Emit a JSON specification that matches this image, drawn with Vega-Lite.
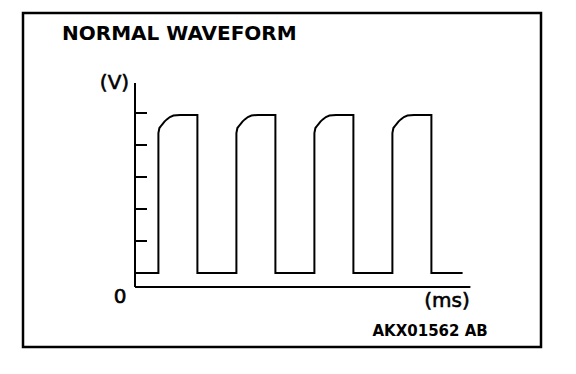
{
  "$schema": "https://vega.github.io/schema/vega-lite/v6.json",
  "width": 518,
  "height": 334,
  "autosize": {"type": "none"},
  "padding": {"left": 23, "top": 13, "right": 35, "bottom": 27},
  "background": "white",
  "config": {"view": {"stroke": "black", "strokeWidth": 2.5}},
  "datasets": {
    "wave": [
      {"i": 0, "t": 0, "v": 0},
      {"i": 1, "t": 1.2, "v": 0}, {"i": 2, "t": 1.2, "v": 4.375}, {"i": 3, "t": 1.251, "v": 4.53}, {"i": 4, "t": 1.37, "v": 4.625}, {"i": 5, "t": 1.51, "v": 4.73}, {"i": 6, "t": 1.63, "v": 4.8}, {"i": 7, "t": 1.79, "v": 4.875}, {"i": 8, "t": 1.97, "v": 4.92}, {"i": 9, "t": 2.31, "v": 4.94}, {"i": 10, "t": 3.2, "v": 4.94}, {"i": 11, "t": 3.2, "v": 0},
      {"i": 12, "t": 5.2, "v": 0}, {"i": 13, "t": 5.2, "v": 4.375}, {"i": 14, "t": 5.251, "v": 4.53}, {"i": 15, "t": 5.37, "v": 4.625}, {"i": 16, "t": 5.51, "v": 4.73}, {"i": 17, "t": 5.63, "v": 4.8}, {"i": 18, "t": 5.79, "v": 4.875}, {"i": 19, "t": 5.97, "v": 4.92}, {"i": 20, "t": 6.31, "v": 4.94}, {"i": 21, "t": 7.2, "v": 4.94}, {"i": 22, "t": 7.2, "v": 0},
      {"i": 23, "t": 9.2, "v": 0}, {"i": 24, "t": 9.2, "v": 4.375}, {"i": 25, "t": 9.251, "v": 4.53}, {"i": 26, "t": 9.37, "v": 4.625}, {"i": 27, "t": 9.51, "v": 4.73}, {"i": 28, "t": 9.63, "v": 4.8}, {"i": 29, "t": 9.79, "v": 4.875}, {"i": 30, "t": 9.97, "v": 4.92}, {"i": 31, "t": 10.31, "v": 4.94}, {"i": 32, "t": 11.2, "v": 4.94}, {"i": 33, "t": 11.2, "v": 0},
      {"i": 34, "t": 13.2, "v": 0}, {"i": 35, "t": 13.2, "v": 4.375}, {"i": 36, "t": 13.251, "v": 4.53}, {"i": 37, "t": 13.37, "v": 4.625}, {"i": 38, "t": 13.51, "v": 4.73}, {"i": 39, "t": 13.63, "v": 4.8}, {"i": 40, "t": 13.79, "v": 4.875}, {"i": 41, "t": 13.97, "v": 4.92}, {"i": 42, "t": 14.31, "v": 4.94}, {"i": 43, "t": 15.2, "v": 4.94}, {"i": 44, "t": 15.2, "v": 0},
      {"i": 45, "t": 16.8, "v": 0}
    ],
    "axes": [
      {"t": 0, "v": -0.4375, "t2": 0, "v2": 5.9375},
      {"t": 0, "v": -0.4375, "t2": 17.2, "v2": -0.4375}
    ],
    "ticks": [
      {"t": 0, "v": 1, "t2": 0.615},
      {"t": 0, "v": 2, "t2": 0.615},
      {"t": 0, "v": 3, "t2": 0.615},
      {"t": 0, "v": 4, "t2": 0.615},
      {"t": 0, "v": 5, "t2": 0.615}
    ]
  },
  "layer": [
    {
      "data": {"name": "axes"},
      "mark": {"type": "rule", "color": "black", "strokeWidth": 2},
      "encoding": {
        "x": {"field": "t", "type": "quantitative", "scale": {"domain": [-5.744, 20.821], "nice": false, "zero": false}, "axis": null},
        "y": {"field": "v", "type": "quantitative", "scale": {"domain": [-2.3125, 8.125], "nice": false, "zero": false}, "axis": null},
        "x2": {"field": "t2"},
        "y2": {"field": "v2"}
      }
    },
    {
      "data": {"name": "ticks"},
      "mark": {"type": "rule", "color": "black", "strokeWidth": 2},
      "encoding": {
        "x": {"field": "t", "type": "quantitative", "axis": null},
        "y": {"field": "v", "type": "quantitative", "axis": null},
        "x2": {"field": "t2"}
      }
    },
    {
      "data": {"name": "wave"},
      "mark": {"type": "line", "color": "black", "strokeWidth": 2, "strokeJoin": "miter"},
      "encoding": {
        "x": {"field": "t", "type": "quantitative", "axis": null},
        "y": {"field": "v", "type": "quantitative", "axis": null},
        "order": {"field": "i", "type": "quantitative"}
      }
    },
    {
      "data": {"values": [{"t": -3.744, "v": 7.281, "label": "NORMAL WAVEFORM"}]},
      "mark": {"type": "text", "align": "left", "baseline": "alphabetic", "font": "DejaVu Sans", "fontSize": 20, "fontWeight": "bold", "color": "black"},
      "encoding": {
        "x": {"field": "t", "type": "quantitative", "axis": null},
        "y": {"field": "v", "type": "quantitative", "axis": null},
        "text": {"field": "label"}
      }
    },
    {
      "data": {"values": [
        {"t": -1.051, "v": 5.75, "label": "(V)"},
        {"t": -0.769, "v": -0.928, "label": "0"},
        {"t": 16.0, "v": -1.047, "label": "(ms)"}
      ]},
      "mark": {"type": "text", "align": "center", "baseline": "alphabetic", "font": "DejaVu Sans", "fontSize": 20, "color": "black", "stroke": "black", "strokeWidth": 0.6},
      "encoding": {
        "x": {"field": "t", "type": "quantitative", "axis": null},
        "y": {"field": "v", "type": "quantitative", "axis": null},
        "text": {"field": "label"}
      }
    },
    {
      "data": {"values": [{"t": 18.09, "v": -1.969, "label": "AKX01562 AB"}]},
      "mark": {"type": "text", "align": "right", "baseline": "alphabetic", "font": "DejaVu Sans", "fontSize": 15, "fontWeight": "bold", "color": "black"},
      "encoding": {
        "x": {"field": "t", "type": "quantitative", "axis": null},
        "y": {"field": "v", "type": "quantitative", "axis": null},
        "text": {"field": "label"}
      }
    }
  ]
}
